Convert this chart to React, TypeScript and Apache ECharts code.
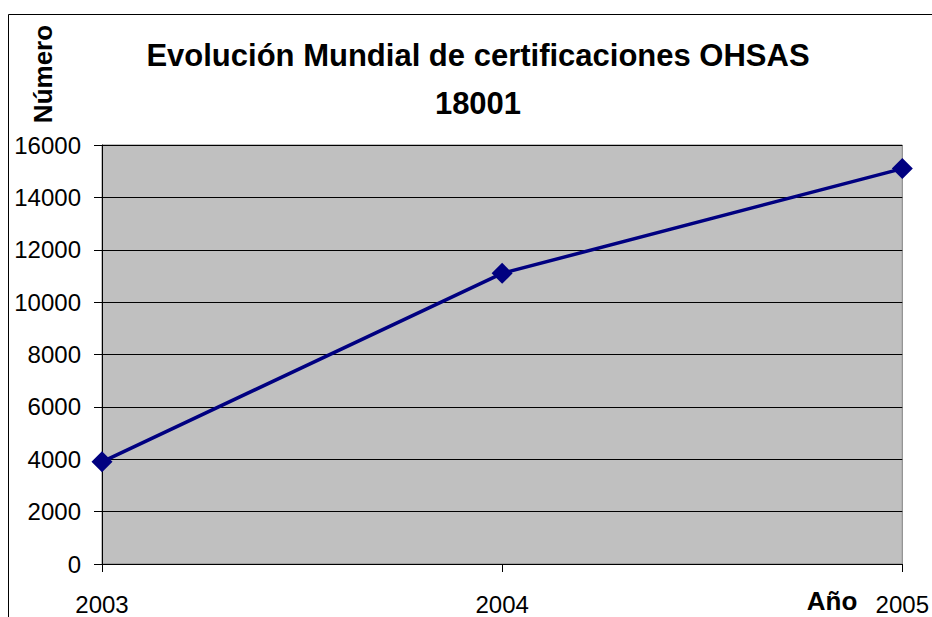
import React, { useEffect, useRef } from "react";
import * as echarts from "echarts";

const years = ["2003", "2004", "2005"];
const certifications = [3900, 11100, 15100];
const yMin = 0;
const yMax = 16000;
const yInterval = 2000;
const titleText = "Evolución Mundial de certificaciones OHSAS\n18001";
const yName = "Número";
const xName = "Año";

const FONT = 'Arial, "Liberation Sans", sans-serif';

export default function App() {
  const ref = useRef<HTMLDivElement>(null);
  useEffect(() => {
    if (!ref.current) return;
    document.documentElement.style.overflow = "hidden";
    document.body.style.margin = "0";
    const chart = echarts.init(ref.current, undefined, { renderer: "svg" });
    chart.setOption({
      animation: false,
      backgroundColor: "#ffffff",
      textStyle: { fontFamily: FONT },
      title: {
        text: titleText,
        left: 473,
        textAlign: "center",
        top: 26,
        textStyle: {
          fontFamily: FONT,
          fontSize: 31,
          fontWeight: "bold",
          color: "#000",
          lineHeight: 48,
        },
      },
      grid: {
        left: 102,
        top: 145,
        right: 22,
        bottom: 53,
        show: true,
        backgroundColor: "#C0C0C0",
        borderColor: "#808080",
        borderWidth: 1,
        containLabel: false,
      },
      xAxis: {
        type: "category",
        data: years,
        boundaryGap: false,
        axisLine: { show: true, lineStyle: { color: "#000", width: 1 } },
        axisTick: { show: true, inside: false, length: 8, lineStyle: { color: "#000" } },
        axisLabel: {
          show: true,
          margin: 28,
          fontFamily: FONT,
          fontSize: 24,
          color: "#000",
          showMaxLabel: true,
          showMinLabel: true,
        },
        splitLine: { show: false },
      },
      yAxis: {
        type: "value",
        min: yMin,
        max: yMax,
        interval: yInterval,
        axisLine: { show: true, lineStyle: { color: "#000", width: 1 } },
        axisTick: { show: true, inside: false, length: 8, lineStyle: { color: "#000" } },
        axisLabel: {
          margin: 21,
          fontFamily: FONT,
          fontSize: 24,
          color: "#000",
          formatter: (v: number) => String(v),
        },
        splitLine: { show: true, lineStyle: { color: "#000", width: 1 } },
      },
      series: [
        {
          type: "line",
          data: certifications,
          symbol: "diamond",
          symbolSize: 21,
          lineStyle: { color: "#000080", width: 3.5 },
          itemStyle: { color: "#000080" },
        },
      ],
      graphic: [
        {
          type: "rect",
          shape: { x: 8.5, y: 14.5, width: 1200, height: 1000 },
          style: { fill: "none", stroke: "#000", lineWidth: 1 },
          silent: true,
          z: 100,
        },
        {
          type: "text",
          x: 43,
          y: 74,
          rotation: Math.PI / 2,
          style: {
            text: yName,
            fontFamily: FONT,
            fontSize: 26,
            fontWeight: "bold",
            fill: "#000",
            align: "center",
            verticalAlign: "middle",
          },
        },
        {
          type: "text",
          x: 832,
          y: 601,
          style: {
            text: xName,
            fontFamily: FONT,
            fontSize: 26,
            fontWeight: "bold",
            fill: "#000",
            align: "center",
            verticalAlign: "middle",
          },
        },
      ],
    });
    return () => chart.dispose();
  }, []);
  return (
    <div
      ref={ref}
      style={{ position: "fixed", left: 0, top: 0, width: 932, height: 617 }}
    />
  );
}
